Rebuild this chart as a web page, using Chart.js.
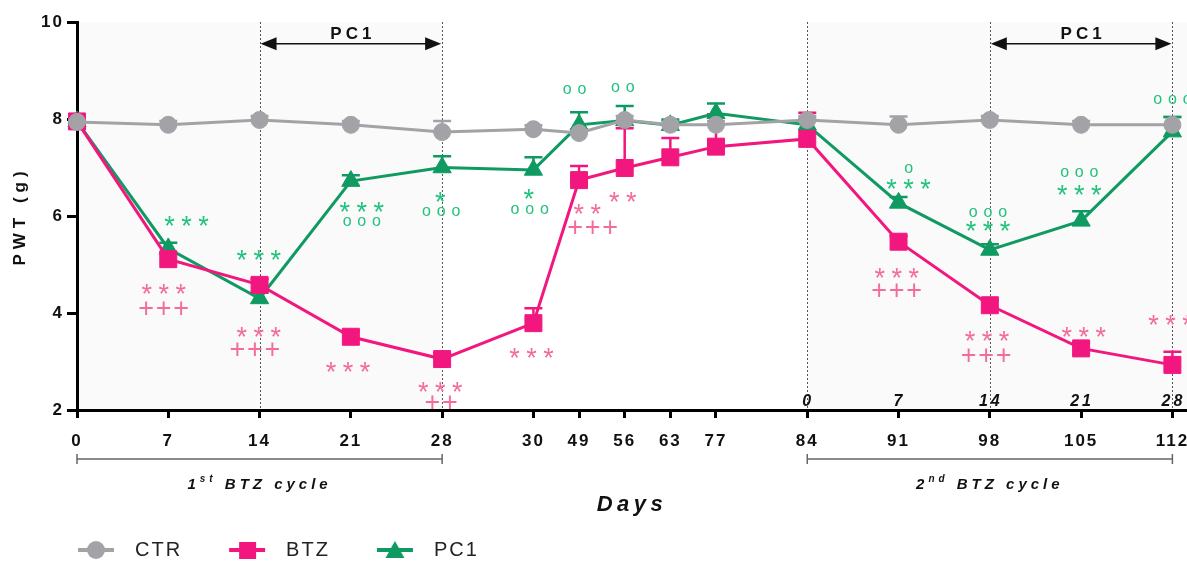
<!DOCTYPE html>
<html><head><meta charset="utf-8">
<script src="https://cdn.jsdelivr.net/npm/chart.js@4.4.1/dist/chart.umd.min.js"></script>
<style>html,body{margin:0;padding:0;background:#fff;}canvas{display:block;}</style>
</head><body>
<canvas id="c" width="1187" height="561"></canvas>
<script>
// ---- data ----
const days      = [0, 7, 14, 21, 28, 30, 49, 56, 63, 77, 84, 91, 98, 105, 112];
const axisPos   = [0, 1, 2, 3, 4, 5, 5.5, 6, 6.5, 7, 8, 9, 10, 11, 12];
const cycleDayLabels = ['0', '7', '14', '21', '28'];
const cycleDayAt     = [84, 91, 98, 105, 112];
const seriesNames = ['CTR', 'BTZ', 'PC1'];
const ctrMean = [7.94, 7.88, 7.98, 7.88, 7.73, 7.79, 7.71, 7.98, 7.88, 7.88, 7.98, 7.88, 7.98, 7.88, 7.88];
const ctrErr  = [0.08, 0.08, 0.08, 0.08, 0.23, 0.08, 0.08, 0.08, 0.08, 0.08, 0.08, 0.17, 0.08, 0.08, 0.16];
const btzMean = [7.95, 5.11, 4.58, 3.51, 3.05, 3.79, 6.74, 6.99, 7.21, 7.43, 7.59, 5.47, 4.16, 3.27, 2.93];
const btzErr  = [0.10, 0.12, 0.12, 0.12, 0.12, 0.31, 0.29, 0.82, 0.40, 0.67, 0.54, 0.12, 0.12, 0.12, 0.27];
const pc1Mean = [7.95, 5.33, 4.30, 6.72, 7.00, 6.95, 7.88, 7.97, 7.87, 8.12, 7.88, 6.27, 5.30, 5.90, 7.74];
const pc1Err  = [0.10, 0.12, 0.12, 0.12, 0.23, 0.26, 0.26, 0.30, 0.12, 0.20, 0.12, 0.12, 0.12, 0.20, 0.30];
const cycles      = [{from: 0, to: 28, label: ['1', 'st', ' BTZ cycle']}, {from: 84, to: 112, label: ['2', 'nd', ' BTZ cycle']}];
const pcPeriods   = [{from: 14, to: 28, label: 'PC1'}, {from: 98, to: 112, label: 'PC1'}];
const dottedDays  = [14, 28, 84, 98, 112];
// significance marks: [axis position, value, symbols]
const btzMarks = [
  [0.95, 4.49, '***'], [0.95, 4.11, '+++'],
  [1.99, 3.61, '***'], [1.95, 3.26, '+++'],
  [2.97, 2.88, '***'],
  [3.98, 2.48, '***'], [3.99, 2.17, '++'],
  [4.98, 3.17, '***'],
  [5.59, 6.14, '**'], [5.65, 5.78, '+++'],
  [5.98, 6.40, '**'],
  [8.98, 4.83, '***'], [8.98, 4.47, '+++'],
  [9.97, 3.53, '***'], [9.96, 3.13, '+++'],
  [11.03, 3.61, '***'],
  [11.98, 3.86, '***']
];
const pc1Marks = [
  [1.20, 5.90, '***'],
  [1.99, 5.20, '***'],
  [3.12, 6.19, '***'], [3.12, 5.88, 'ooo'],
  [3.98, 6.40, '*'], [3.99, 6.09, 'ooo'],
  [4.95, 6.45, '*'], [4.96, 6.14, 'ooo'],
  [5.45, 8.60, 'oo'],
  [5.98, 8.65, 'oo'],
  [9.11, 6.98, 'o'], [9.11, 6.67, '***'],
  [9.98, 6.07, 'ooo'], [9.98, 5.79, '***'],
  [10.98, 6.89, 'ooo'], [10.98, 6.54, '***'],
  [12.0, 8.41, 'ooo']
];

// ---- style ----
const FONT = '"Liberation Sans", Arial, Helvetica, sans-serif';
Chart.defaults.font.family = FONT;
const GRAY = '#a3a3a7', PINK = '#f2177f', GREEN = '#0f9a62';
const PINK_T = '#f26c9d', GREEN_T = '#22c27f';
const posOf = d => axisPos[days.indexOf(d)];
const xy = arr => arr.map((v, i) => ({x: axisPos[i], y: v}));

function legendIcon(color, style) {
  const c = document.createElement('canvas'); c.width = 40; c.height = 22;
  const g = c.getContext('2d');
  g.strokeStyle = color; g.lineWidth = 4;
  g.beginPath(); g.moveTo(2, 11); g.lineTo(38, 11); g.stroke();
  g.fillStyle = color;
  if (style === 'circle') { g.beginPath(); g.arc(20, 11, 9, 0, Math.PI * 2); g.fill(); }
  else if (style === 'rect') { g.fillRect(12, 3, 17, 17); }
  else { g.beginPath(); g.moveTo(20, 2); g.lineTo(29.5, 19); g.lineTo(10.5, 19); g.closePath(); g.fill(); }
  return c;
}
const icons = [legendIcon(GRAY, 'circle'), legendIcon(PINK, 'rect'), legendIcon(GREEN, 'triangle')];

const SYM = {'*': {size: 27, gap: 17}, '+': {size: 27, gap: 17.5}, 'o': {size: 16, gap: 14.7}};
function drawSymbols(ctx, cx, cy, str, color) {
  const ch = str[0], s = SYM[ch], n = str.length;
  ctx.font = s.size + 'px ' + FONT;
  ctx.fillStyle = color; ctx.textAlign = 'center'; ctx.textBaseline = 'alphabetic';
  ctx.letterSpacing = '0px';
  const m = ctx.measureText(ch);
  const by = cy + (m.actualBoundingBoxAscent - m.actualBoundingBoxDescent) / 2;
  for (let i = 0; i < n; i++) ctx.fillText(ch, cx + (i - (n - 1) / 2) * s.gap, by);
}

function patchTitle(scale, spacing) {
  if (scale.__patched) return;
  scale.__patched = true;
  const orig = scale.drawTitle;
  scale.drawTitle = function () {
    const c = this.ctx; c.save(); c.letterSpacing = spacing; orig.call(this); c.restore();
  };
}

const deco = {
  id: 'deco',
  afterLayout(chart) {
    const lg = chart.legend;
    if (lg) { lg.left = 31; lg.top = 504; lg.bottom = 561; }
    patchTitle(chart.scales.y, '5px');
    patchTitle(chart.scales.x, '4.5px');
  },
  beforeDraw(chart) {
    const {ctx, chartArea: a, scales: {x}} = chart;
    ctx.letterSpacing = '2px';
    ctx.save();
    ctx.fillStyle = '#fafafa';
    cycles.forEach((c, i) => {
      const x0 = x.getPixelForValue(posOf(c.from));
      const x1 = i === cycles.length - 1 ? a.right : x.getPixelForValue(posOf(c.to));
      ctx.fillRect(x0, a.top, x1 - x0, a.bottom - a.top);
    });
    ctx.restore();
  },
  beforeDatasetsDraw(chart) {
    const {ctx, chartArea: a, scales: {x, y}} = chart;
    ctx.save();
    ctx.strokeStyle = '#555'; ctx.lineWidth = 1; ctx.setLineDash([2, 2]);
    dottedDays.forEach(d => {
      const px = Math.round(x.getPixelForValue(posOf(d))) + 0.5;
      ctx.beginPath(); ctx.moveTo(px, a.top); ctx.lineTo(px, a.bottom); ctx.stroke();
    });
    ctx.setLineDash([]);
    const errs = [ctrErr, btzErr, pc1Err];
    chart.data.datasets.forEach((ds, i) => {
      ctx.strokeStyle = ds.borderColor; ctx.lineWidth = 2.5;
      ds.data.forEach((p, j) => {
        const px = x.getPixelForValue(p.x), py = y.getPixelForValue(p.y), pt = y.getPixelForValue(p.y + errs[i][j]);
        ctx.beginPath(); ctx.moveTo(px, py); ctx.lineTo(px, pt);
        ctx.moveTo(px - 9, pt); ctx.lineTo(px + 9, pt); ctx.stroke();
      });
    });
    ctx.restore();
  },
  afterDraw(chart) {
    const {ctx, chartArea: a, scales: {x, y}} = chart;
    ctx.save();
    // significance marks
    btzMarks.forEach(m => drawSymbols(ctx, x.getPixelForValue(m[0]), y.getPixelForValue(m[1]), m[2], PINK_T));
    pc1Marks.forEach(m => drawSymbols(ctx, x.getPixelForValue(m[0]), y.getPixelForValue(m[1]), m[2], GREEN_T));
    // PC1 arrows
    pcPeriods.forEach(p => {
      const x0 = x.getPixelForValue(posOf(p.from)) + 1, x1 = x.getPixelForValue(posOf(p.to)) - 1;
      const ay = y.getPixelForValue(9.55);
      ctx.strokeStyle = '#111'; ctx.fillStyle = '#111'; ctx.lineWidth = 1.5;
      ctx.beginPath(); ctx.moveTo(x0 + 10, ay); ctx.lineTo(x1 - 10, ay); ctx.stroke();
      ctx.beginPath(); ctx.moveTo(x0, ay); ctx.lineTo(x0 + 16, ay - 6.5); ctx.lineTo(x0 + 16, ay + 6.5); ctx.closePath(); ctx.fill();
      ctx.beginPath(); ctx.moveTo(x1, ay); ctx.lineTo(x1 - 16, ay - 6.5); ctx.lineTo(x1 - 16, ay + 6.5); ctx.closePath(); ctx.fill();
      ctx.font = 'bold 17px ' + FONT; ctx.letterSpacing = '4px';
      ctx.textAlign = 'center'; ctx.textBaseline = 'middle';
      ctx.fillText(p.label, (x0 + x1) / 2 + 2, y.getPixelForValue(9.74));
    });
    // inner cycle day numbers
    ctx.font = 'italic bold 16px ' + FONT; ctx.letterSpacing = '3px';
    ctx.textAlign = 'center'; ctx.textBaseline = 'alphabetic'; ctx.fillStyle = '#111';
    cycleDayLabels.forEach((t, i) => ctx.fillText(t, x.getPixelForValue(posOf(cycleDayAt[i])) + 1, a.bottom - 4));
    // cycle brackets
    cycles.forEach(c => {
      const x0 = x.getPixelForValue(posOf(c.from)), x1 = x.getPixelForValue(posOf(c.to));
      const by = a.bottom + 49;
      ctx.strokeStyle = '#666'; ctx.lineWidth = 1.5;
      ctx.beginPath(); ctx.moveTo(x0, by); ctx.lineTo(x1, by);
      ctx.moveTo(x0, by - 5); ctx.lineTo(x0, by + 5); ctx.moveTo(x1, by - 5); ctx.lineTo(x1, by + 5); ctx.stroke();
      const [num, sup, rest] = c.label;
      ctx.letterSpacing = '4px'; ctx.fillStyle = '#111'; ctx.textAlign = 'left';
      ctx.font = 'italic bold 15px ' + FONT; const w1 = ctx.measureText(num).width; const w3 = ctx.measureText(rest).width;
      ctx.font = 'italic bold 10px ' + FONT; const w2 = ctx.measureText(sup).width;
      let tx = (x0 + x1) / 2 - (w1 + w2 + w3) / 2; const ty = a.bottom + 79;
      ctx.font = 'italic bold 15px ' + FONT; ctx.fillText(num, tx, ty); tx += w1;
      ctx.font = 'italic bold 10px ' + FONT; ctx.fillText(sup, tx, ty - 7); tx += w2;
      ctx.font = 'italic bold 15px ' + FONT; ctx.fillText(rest, tx, ty);
    });
    ctx.restore();
  }
};

const common = {borderWidth: 3, tension: 0, clip: false, pointBorderWidth: 1, fill: false};
new Chart(document.getElementById('c'), {
  type: 'line',
  data: {
    datasets: [
      Object.assign({label: seriesNames[0], data: xy(ctrMean), borderColor: GRAY, backgroundColor: GRAY, pointBackgroundColor: GRAY, pointBorderColor: GRAY, pointStyle: 'circle', pointRadius: 8.5}, common),
      Object.assign({label: seriesNames[1], data: xy(btzMean), borderColor: PINK, backgroundColor: PINK, pointBackgroundColor: PINK, pointBorderColor: PINK, pointStyle: 'rect', pointRadius: 12}, common),
      Object.assign({label: seriesNames[2], data: xy(pc1Mean), borderColor: GREEN, backgroundColor: GREEN, pointBackgroundColor: GREEN, pointBorderColor: GREEN, pointStyle: 'triangle', pointRadius: 10.5}, common)
    ]
  },
  options: {
    responsive: false, animation: false, devicePixelRatio: 1,
    layout: {autoPadding: false, padding: {top: 22, left: 0, right: 0, bottom: 0}},
    scales: {
      x: {
        type: 'linear', min: 0, max: 12.16,
        afterBuildTicks: s => { s.ticks = axisPos.map(v => ({value: v})); },
        afterFit: s => { s.height = 121; s.paddingLeft = 0; s.paddingRight = 0; },
        ticks: {autoSkip: false, maxRotation: 0, callback: (v, i) => String(days[i]), font: {size: 17, weight: 'bold'}, color: '#111', padding: 13},
        grid: {drawOnChartArea: false, drawTicks: true, tickLength: 8, lineWidth: 3, color: '#000'},
        border: {display: true, color: '#000', width: 3},
        title: {display: true, text: 'Days', color: '#111', font: {size: 22, weight: 'bold', style: 'italic'}, padding: {top: 0, bottom: 13}}
      },
      y: {
        min: 2, max: 10,
        afterFit: s => { s.width = 77; },
        ticks: {stepSize: 2, font: {size: 17, weight: 'bold'}, color: '#111', padding: 3},
        grid: {drawOnChartArea: false, drawTicks: true, tickLength: 10, lineWidth: 3, color: '#000'},
        border: {display: true, color: '#000', width: 3},
        title: {display: true, text: 'PWT (g)', color: '#111', font: {size: 17, weight: 'bold'}, padding: {top: 10, bottom: 0}}
      }
    },
    plugins: {
      tooltip: {enabled: false},
      legend: {
        position: 'bottom', align: 'start', maxHeight: 30,
        labels: {
          usePointStyle: true, pointStyleWidth: 58, padding: 36, color: '#222', font: {size: 20},
          generateLabels(chart) {
            const items = Chart.defaults.plugins.legend.labels.generateLabels(chart);
            items.forEach((it, i) => { it.pointStyle = icons[i]; });
            return items;
          }
        }
      }
    }
  },
  plugins: [deco]
});
</script>
</body></html>
